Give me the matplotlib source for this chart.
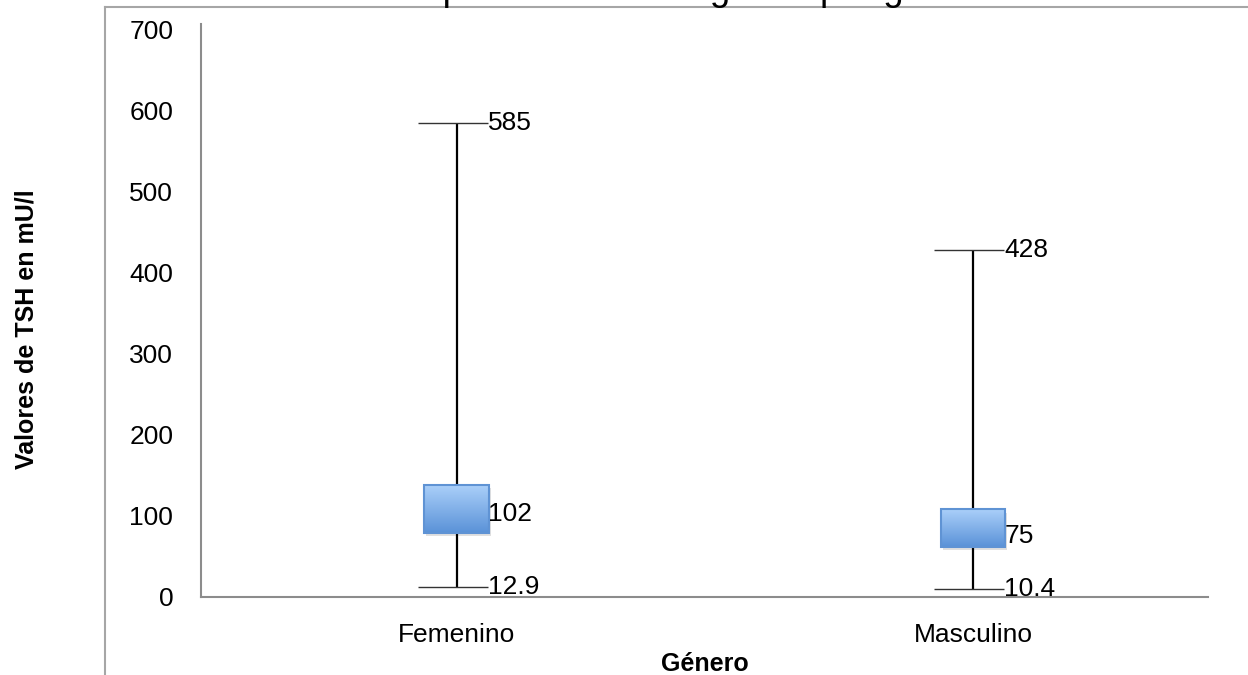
import numpy as np
import matplotlib
matplotlib.use('Agg')
import matplotlib.pyplot as plt
from matplotlib.lines import Line2D
from matplotlib.patches import Rectangle
from matplotlib.colors import LinearSegmentedColormap

plt.rcParams['font.family'] = ['Liberation Sans', 'DejaVu Sans']

# datos por genero
categorias = ['Femenino', 'Masculino']
maximo = [585, 428]
minimo = [12.9, 10.4]
q1 = [79, 62]
q3 = [138, 108]
mediana = [102, 75]
yticks = [0, 100, 200, 300, 400, 500, 600, 700]

W, H = 1248, 675
fig = plt.figure(figsize=(W / 100, H / 100), dpi=100)

# marco exterior gris
fig.add_artist(Line2D([105 / W, 1], [1 - 7 / H, 1 - 7 / H], transform=fig.transFigure,
                      color='#a6a6a6', lw=1.5))
fig.add_artist(Line2D([105 / W, 105 / W], [0, 1 - 7 / H], transform=fig.transFigure,
                      color='#a6a6a6', lw=1.5))

# titulo (recortado arriba, como en el original)
fig.text(706 / W, 1 - 8.5 / H, 'hipotiroidismo congénito por género', ha='center', va='bottom',
         fontsize=26.5)

ax = fig.add_axes([201 / W, (H - 597) / H, (1208 - 201) / W, (597 - 24) / H])
x = np.arange(len(categorias))

grad = LinearSegmentedColormap.from_list('caja', ['#5a92d8', '#aacff9'])
ancho = 0.125
for i in x:
    ax.vlines(i, minimo[i], maximo[i], color='black', lw=1.6, zorder=2)
    ax.hlines([minimo[i], maximo[i]], i - 0.075, i + 0.06, color='#333333', lw=1.0, zorder=2)
    # sombra
    ax.add_patch(Rectangle((i - ancho / 2 + 0.004, q1[i] - 4), ancho, q3[i] - q1[i],
                           facecolor='#000000', alpha=0.12, edgecolor='none', zorder=3))
    ax.imshow(np.linspace(0, 1, 100).reshape(-1, 1), cmap=grad, origin='lower',
              extent=[i - ancho / 2, i + ancho / 2, q1[i], q3[i]], aspect='auto', zorder=4)
    ax.add_patch(Rectangle((i - ancho / 2, q1[i]), ancho, q3[i] - q1[i],
                           facecolor='none', edgecolor='#5f93d4', lw=1.5, zorder=5))
    for v in [maximo[i], mediana[i], minimo[i]]:
        ax.text(i + ancho / 2 - 0.002, v, f'{v:g}', ha='left', va='center', fontsize=19, zorder=6)

ax.set_xlim(-0.495, 1.455)
ax.set_ylim(0, 707)
ax.set_xticks(x)
ax.set_xticklabels(categorias, fontsize=19)
ax.set_yticks(yticks)
ax.set_yticklabels([str(t) for t in yticks], fontsize=19)
ax.tick_params(length=0)
ax.tick_params(axis='y', pad=20)
ax.tick_params(axis='x', pad=19)
for s in ['top', 'right']:
    ax.spines[s].set_visible(False)
for s in ['left', 'bottom']:
    ax.spines[s].set_color('#8c8c8c')
    ax.spines[s].set_linewidth(1.5)

ax.set_xlabel('Género', fontsize=18, fontweight='bold', labelpad=3)
fig.text(27 / W, 1 - 329 / H, 'Valores de TSH en mU/l', rotation=90, ha='center', va='center',
         fontsize=18, fontweight='bold')

fig.savefig('out.png', dpi=100)
